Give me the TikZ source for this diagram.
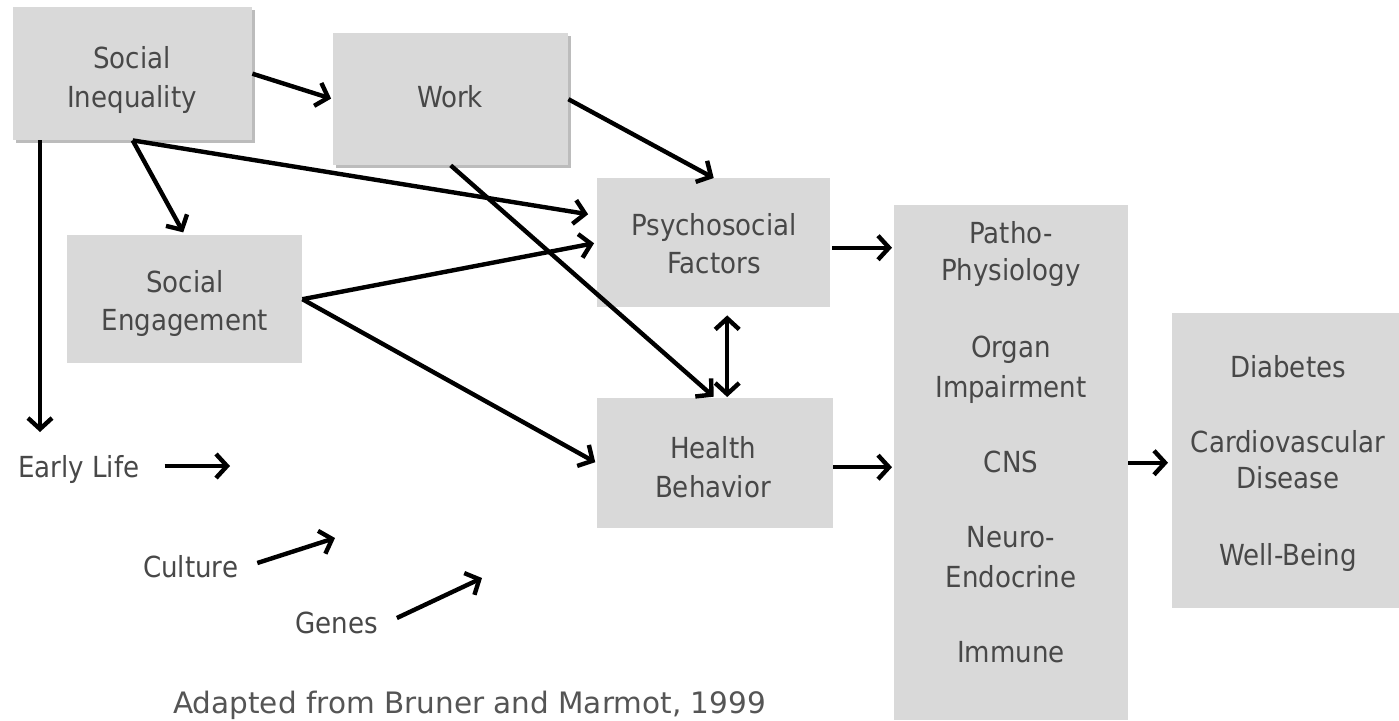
\documentclass[tikz,border=0pt]{standalone}
\usepackage{fontspec}
\newfontfamily\boxfont{DejaVu Sans Condensed}
\newfontfamily\capfont{DejaVu Sans}
\usetikzlibrary{arrows.meta,calc}
\definecolor{boxgray}{RGB}{217,217,217}
\definecolor{shadowgray}{RGB}{188,188,188}
\definecolor{txtgray}{RGB}{72,72,72}
\definecolor{capgray}{RGB}{85,85,85}
\begin{document}
\begin{tikzpicture}[x=1pt,y=-1pt,
  box/.style={fill=boxgray, draw=none, inner sep=0pt, anchor=north west},
  lbl/.style={font=\boxfont\fontsize{29}{38}\selectfont, text=txtgray, anchor=base, inner sep=0pt},
  arr/.style={line width=4.4pt, -{Straight Barb[length=11pt,width=24pt]}},
  arrboth/.style={line width=4.4pt, {Straight Barb[length=11pt,width=24pt]}-{Straight Barb[length=11pt,width=24pt]}},
  ]
\useasboundingbox (0,0) rectangle (1399,720);
\fill[white] (0,0) rectangle (1399,720);

% shadows
\fill[shadowgray] (16,10) rectangle (255,143);
\fill[shadowgray] (336,36) rectangle (571,168);

% boxes
\node[box, minimum width=239pt, minimum height=133pt] (si) at (13,7) {};
\node[box, minimum width=235pt, minimum height=132pt] (work) at (333,33) {};
\node[box, minimum width=235pt, minimum height=128pt] (se) at (67,235) {};
\node[box, minimum width=233pt, minimum height=129pt] (psych) at (597,178) {};
\node[box, minimum width=236pt, minimum height=130pt] (hb) at (597,398) {};
\node[box, minimum width=234pt, minimum height=515pt] (patho) at (894,205) {};
\node[box, minimum width=227pt, minimum height=295pt] (diab) at (1172,313) {};

% labels
\node[lbl] (si1) at (132,68) {Social};
\node[lbl] (si2) at (132,107) {Inequality};
\node[lbl] (wk) at (450,107) {Work};
\node[lbl] (se1) at (185,292) {Social};
\node[lbl] (se2) at (185,330) {Engagement};
\node[lbl] (ps1) at (714,235) {Psychosocial};
\node[lbl] (ps2) at (714,273) {Factors};
\node[lbl] (hb1) at (713,458) {Health};
\node[lbl] (hb2) at (713,497) {Behavior};
\node[lbl] (pa1) at (1011,243) {Patho-};
\node[lbl] (pa2) at (1011,280) {Physiology};
\node[lbl] (pa3) at (1011,357) {Organ};
\node[lbl] (pa4) at (1011,397) {Impairment};
\node[lbl] (pa5) at (1011,472) {CNS};
\node[lbl] (pa6) at (1011,547) {Neuro-};
\node[lbl] (pa7) at (1011,587) {Endocrine};
\node[lbl] (pa8) at (1011,662) {Immune};
\node[lbl] (di1) at (1288,377) {Diabetes};
\node[lbl] (di2) at (1288,452) {Cardiovascular};
\node[lbl] (di3) at (1288,488) {Disease};
\node[lbl] (di4) at (1288,565) {Well-Being};
\node[lbl, anchor=base west] (el) at (18,477) {Early Life};
\node[lbl, anchor=base west] (cu) at (143,577) {Culture};
\node[lbl, anchor=base west] (ge) at (295,633) {Genes};
\node[font=\capfont\fontsize{29.5}{36}\selectfont, text=capgray, anchor=base west, inner sep=0pt] (cap) at (173,713) {Adapted from Bruner and Marmot, 1999};

% free ends
\coordinate (elt) at (40,432);
\coordinate (elend) at (230,466);
\coordinate (cuend) at (335,538);
\coordinate (geend) at (482,578);

% connectors
\draw[arr, shorten >=2pt] (si.east) -- (work.west);
\draw[arr, shorten >=3pt] (si.south) -- (se.north);
\draw[arr, shorten >=9pt] (si.south) -- ($(psych.west)+(0,-27)$);
\draw[arr] (si.south -| elt) -- (elt);
\draw[arr] (work.east) -- (psych.north);
\draw[arr, shorten >=2pt] (work.south) -- (hb.north);
\draw[arr, shorten >=3pt] (se.east) -- (psych.west);
\draw[arr, shorten >=2pt] (se.east) -- (hb.west);
\draw[arrboth, shorten <=8pt, shorten >=1pt] ($(psych.south)+(13.5,0)$) coordinate (pab) -- (pab |- hb.north);
\draw[arr, shorten <=2pt, shorten >=2pt] ($(psych.east)+(0,5)$) coordinate (pe) -- (pe -| patho.west);
\draw[arr, shorten >=2pt] ($(hb.east)+(0,4)$) coordinate (he) -- (he -| patho.west);
\draw[arr, shorten >=4pt] (patho.east) -- (patho.east -| diab.west);
\draw[arr] ($(el.base east)+(25,-11)$) -- (elend);
\draw[arr] ($(cu.base east)+(19,-14)$) -- (cuend);
\draw[arr] ($(ge.base east)+(19,-15)$) -- (geend);
\end{tikzpicture}
\end{document}
